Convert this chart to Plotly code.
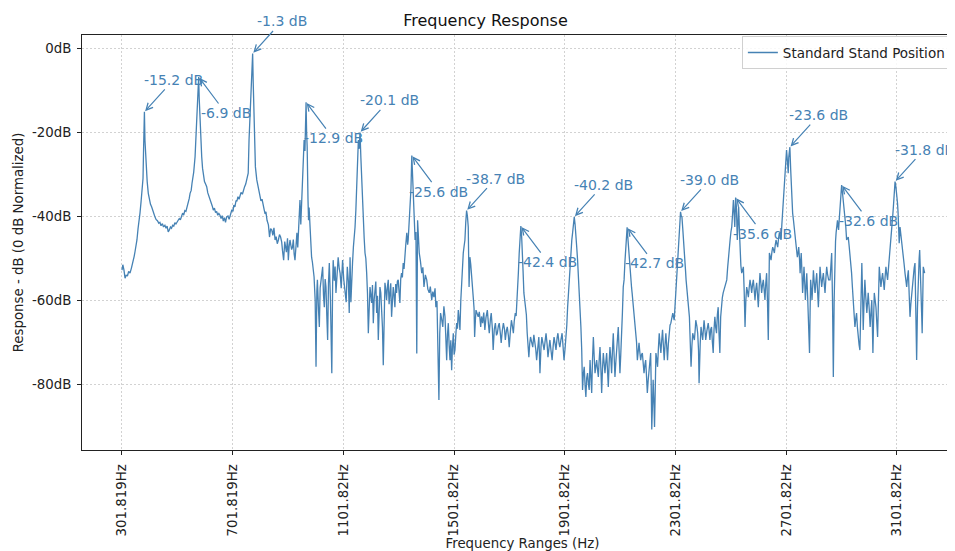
import plotly.graph_objects as go

# ---- data (frequency in Hz, response in dB) ----
seg1_hz = [302, 305, 309, 313, 317, 322, 326, 331, 336, 342, 346, 349, 353, 356, 360, 364, 367, 371, 375, 378, 380, 383,
           385, 389, 393, 397, 401, 405, 409, 413, 417, 421, 425, 430, 435, 439, 443, 448, 452, 457, 461, 465, 469, 473,
           477, 481, 485, 489, 493, 497, 501, 505, 509, 513, 517, 521, 525, 529, 533, 538, 542, 545, 548, 552, 555, 557,
           561, 566, 570, 574, 577, 579, 581, 584, 587, 590, 593, 596, 600, 604, 608, 612, 616, 620, 624, 628, 632, 636,
           640, 644, 648, 652, 656, 660, 664, 668, 672, 676, 680, 685, 689]
seg1_db = [-52.9, -51.6, -52.8, -54.8, -54.1, -54.2, -53.2, -53.6, -52.4, -51.0, -49.6, -48.5, -47.0, -45.7, -43.0, -41.1,
           -39.3, -36.5, -33.0, -31.0, -24.0, -15.2, -22.0, -28.3, -31.8, -34.6, -36.4, -37.2, -37.8, -38.9, -39.4, -40.2,
           -40.8, -41.1, -41.7, -41.5, -42.3, -41.8, -42.6, -42.2, -42.9, -42.4, -43.8, -43.3, -42.6, -42.9, -42.2, -42.4,
           -41.6, -41.9, -41.2, -41.0, -40.6, -40.9, -40.1, -39.3, -39.8, -38.7, -38.9, -37.8, -37.0, -35.8, -34.6, -33.9,
           -32.2, -31.4, -29.6, -25.9, -21.0, -14.0, -9.5, -6.9, -12.0, -17.9, -22.5, -25.9, -28.6, -30.7, -31.8, -32.4,
           -33.0, -34.5, -35.2, -36.2, -36.9, -37.6, -38.6, -38.1, -39.2, -38.9, -39.8, -39.4, -39.8, -40.6, -39.9, -41.2,
           -40.4, -41.5, -40.2, -40.0, -40.8]

seg2_hz = [692, 696, 699, 703, 706, 710, 714, 717, 721, 725, 728, 732, 737, 741, 745, 749, 753, 758, 761, 764, 766, 769,
           772, 774, 776, 778, 781, 784, 789, 793, 797, 800, 804, 808, 812, 816, 819, 822, 826, 831, 835, 839, 843, 847,
           851, 855, 859, 863, 867, 871, 875, 879, 882, 886, 890, 893, 896, 900, 903, 906, 909, 912, 915, 918, 921, 924,
           927, 930, 934, 937, 940, 942, 945, 948, 951, 954, 957, 960, 963, 965, 967, 969, 971, 974, 976, 978, 981, 984,
           987, 990, 993, 996, 1000, 1003, 1006, 1008, 1012, 1015, 1018, 1020, 1024, 1027, 1030, 1033, 1036, 1039, 1042,
           1045, 1048, 1051, 1055, 1060, 1063, 1065, 1069, 1072, 1075, 1079, 1083, 1087, 1090, 1094, 1099, 1103, 1108,
           1112, 1116, 1120, 1123]
seg2_db = [-40.2, -39.1, -38.5, -38.9, -37.4, -37.8, -36.3, -36.5, -35.4, -36.0, -35.5, -34.4, -34.8, -33.6, -33.0, -32.4,
           -31.5, -29.8, -21.9, -16.5, -13.1, -10.0, -5.5, -1.3, -8.0, -14.0, -22.0, -28.3, -31.4, -32.8, -34.7, -35.5,
           -36.4, -36.0, -37.8, -38.6, -39.5, -39.0, -41.0, -42.1, -45.0, -43.0, -43.3, -44.6, -42.8, -45.7, -44.9, -46.6,
           -45.7, -44.4, -45.0, -46.2, -48.3, -50.5, -46.1, -47.4, -48.6, -45.3, -50.5, -47.2, -45.7, -46.9, -48.0, -47.4,
           -45.6, -49.0, -50.5, -47.8, -44.0, -47.5, -43.0, -40.6, -36.2, -42.0, -37.5, -32.0, -26.0, -21.9, -24.5, -17.0,
           -12.9, -20.0, -23.5, -36.0, -41.0, -38.0, -42.6, -46.1, -49.8, -51.0, -52.3, -54.5, -60.2, -75.9, -58.0, -55.2,
           -62.3, -66.4, -57.1, -55.9, -54.0, -52.1, -58.8, -61.7, -55.0, -56.9, -63.8, -69.5, -56.0, -51.2, -59.7, -77.4,
           -56.3, -50.5, -55.4, -52.0, -58.3, -54.6, -49.8, -52.6, -53.6, -57.2, -50.5, -55.0, -58.3, -60.5, -52.1, -55.6,
           -63.1]

seg3_hz = [1126, 1129, 1132, 1135, 1138, 1141, 1144, 1147, 1150, 1153, 1156, 1159, 1162, 1165, 1168, 1171, 1173, 1177,
           1180, 1183, 1186, 1189, 1192, 1195, 1198, 1201, 1204, 1207, 1210, 1213, 1216, 1219, 1222, 1225, 1228, 1231,
           1234, 1237, 1240, 1243, 1246, 1249, 1252, 1255, 1258, 1261, 1264, 1267, 1270, 1273, 1276, 1279, 1282, 1285,
           1288, 1291, 1294, 1297, 1300, 1303, 1306, 1309, 1312, 1315, 1318, 1321, 1324, 1327, 1331, 1334, 1336, 1339,
           1342, 1346, 1349, 1352, 1354, 1358, 1361, 1364, 1367, 1370, 1373, 1376, 1380, 1385, 1389, 1393, 1398, 1403,
           1407, 1412, 1416, 1421, 1425, 1429, 1433, 1436, 1440, 1443, 1447, 1450, 1453, 1457, 1461, 1465, 1469, 1472,
           1475, 1478, 1481, 1484, 1487, 1490, 1493, 1496, 1499, 1502, 1505, 1508, 1511, 1514, 1517, 1520, 1523, 1526,
           1529, 1532, 1535, 1538, 1541, 1544, 1547, 1550, 1553, 1556]
seg3_db = [-49.8, -60.5, -53.6, -51.0, -47.4, -45.2, -42.6, -38.5, -33.8, -28.0, -21.9, -24.0, -20.1, -26.0, -31.4, -37.0,
           -41.7, -45.3, -48.8, -50.1, -53.6, -58.5, -67.9, -60.2, -56.9, -58.8, -60.7, -56.4, -65.5, -60.0, -58.3, -55.6,
           -63.1, -59.0, -69.5, -60.4, -56.9, -58.3, -61.7, -66.5, -75.5, -63.0, -55.9, -57.5, -60.0, -56.8, -55.2, -61.0,
           -58.3, -56.0, -64.0, -59.5, -56.9, -58.8, -61.7, -56.2, -58.3, -55.5, -55.2, -58.0, -60.7, -55.0, -53.6, -54.6,
           -51.2, -52.6, -48.8, -47.0, -44.0, -46.8, -45.7, -42.0, -39.3, -33.5, -25.6, -31.0, -37.8, -41.5, -45.7, -43.8,
           -72.7, -41.0, -45.5, -48.8, -50.6, -53.6, -52.2, -56.9, -54.0, -55.2, -57.4, -58.3, -56.8, -60.0, -58.0, -59.3,
           -57.2, -61.7, -60.2, -67.9, -83.8, -68.0, -63.1, -64.6, -66.4, -61.5, -64.0, -69.0, -74.3, -68.2, -65.5, -70.8,
           -74.3, -69.6, -76.7, -71.0, -67.9, -73.0, -71.9, -68.4, -65.5, -66.8, -62.4, -64.6, -67.1, -60.2, -55.2, -52.0,
           -48.8, -47.2, -45.7, -41.5, -38.7, -40.0, -42.6, -56.9]

seg4_hz = [1559, 1562, 1565, 1568, 1571, 1574, 1576, 1579, 1581, 1585, 1589, 1593, 1598, 1601, 1605, 1609, 1613, 1617,
           1622, 1626, 1629, 1633, 1636, 1640, 1643, 1647, 1651, 1655, 1658, 1662, 1665, 1669, 1672, 1676, 1680, 1684,
           1687, 1691, 1694, 1698, 1701, 1705, 1709, 1712, 1716, 1719, 1723, 1726, 1728, 1731, 1734, 1737, 1740, 1743,
           1746, 1748, 1751, 1754, 1757, 1760, 1763, 1766, 1769, 1772, 1775, 1778, 1782, 1786, 1790, 1793, 1797, 1800,
           1804, 1808, 1810, 1812, 1816, 1819, 1823, 1827, 1831, 1834, 1838, 1841, 1845, 1848, 1852, 1856, 1860, 1863,
           1867, 1870, 1874, 1877, 1881, 1884, 1888, 1892, 1896, 1899, 1903, 1906, 1909, 1912, 1915, 1918, 1921, 1924,
           1927, 1930, 1933, 1936, 1939, 1942, 1945, 1948, 1951, 1954, 1957, 1960, 1963, 1966, 1969, 1972, 1975, 1978,
           1981, 1984, 1987, 1990]
seg4_db = [-49.8, -51.5, -53.6, -57.0, -59.3, -62.0, -68.8, -64.5, -62.4, -63.2, -64.0, -62.8, -66.4, -63.9, -65.5, -63.0,
           -67.1, -64.2, -62.4, -65.8, -67.9, -64.6, -63.1, -66.7, -71.9, -67.0, -65.5, -68.4, -67.9, -66.1, -65.5, -68.0,
           -70.2, -67.3, -65.5, -67.0, -69.5, -67.2, -66.4, -68.5, -71.2, -67.6, -64.8, -66.0, -67.9, -65.1, -63.1, -63.8,
           -60.0, -57.2, -53.6, -49.0, -45.7, -42.4, -45.0, -47.4, -53.0, -58.3, -60.2, -61.7, -63.5, -67.9, -70.0, -73.6,
           -70.4, -68.8, -70.0, -71.2, -68.3, -69.5, -71.8, -74.3, -70.2, -68.8, -72.4, -77.4, -71.0, -68.8, -70.4, -71.9,
           -69.6, -67.9, -70.6, -73.6, -71.2, -69.5, -72.0, -74.3, -70.8, -68.8, -70.5, -71.9, -69.0, -67.9, -70.3, -71.2,
           -69.4, -67.9, -71.5, -74.3, -71.4, -69.5, -66.0, -61.7, -58.0, -55.2, -51.5, -48.8, -45.8, -44.0, -41.5, -40.2,
           -42.0, -44.0, -47.5, -50.5, -54.0, -58.3, -62.5, -66.4, -72.0, -81.4, -77.5, -75.9, -80.2, -83.1, -78.5, -77.4,
           -80.0, -81.4]

seg5_hz = [1993, 1996, 1999, 2002, 2005, 2008, 2011, 2014, 2017, 2020, 2023, 2026, 2029, 2032, 2035, 2038, 2041, 2044,
           2047, 2050, 2053, 2056, 2059, 2062, 2065, 2068, 2071, 2074, 2077, 2080, 2083, 2086, 2089, 2092, 2095, 2098,
           2101, 2104, 2107, 2110, 2113, 2116, 2119, 2122, 2125, 2127, 2130, 2133, 2137, 2140, 2143, 2145, 2148, 2151,
           2155, 2158, 2161, 2164, 2167, 2170, 2173, 2176, 2179, 2182, 2185, 2188, 2191, 2194, 2197, 2200, 2203, 2206,
           2209, 2212, 2214, 2216, 2219, 2221, 2224, 2226, 2229, 2231, 2234, 2237, 2240, 2243, 2246, 2249, 2252, 2255,
           2258, 2261, 2264, 2267, 2270, 2273, 2276, 2279, 2282, 2285, 2288, 2292, 2295, 2297, 2300, 2303, 2307, 2310,
           2313, 2315, 2318, 2320, 2322, 2325, 2328, 2330, 2333, 2335, 2338, 2340, 2343, 2346, 2349, 2352, 2355, 2358,
           2361, 2364, 2367, 2370, 2373, 2375, 2379, 2382, 2385, 2387, 2391, 2394, 2397, 2400, 2403, 2405, 2408, 2411,
           2415, 2420, 2423]
seg5_db = [-74.3, -79.0, -82.1, -74.0, -68.8, -73.5, -77.4, -75.8, -74.3, -76.5, -78.3, -74.2, -71.2, -76.0, -82.1, -76.4,
           -72.6, -75.0, -77.4, -74.8, -72.6, -76.5, -80.7, -75.0, -71.2, -73.8, -77.4, -72.0, -67.9, -73.2, -78.3, -75.0,
           -72.6, -69.0, -66.4, -72.0, -77.4, -73.0, -69.5, -63.0, -56.9, -55.2, -51.0, -47.4, -45.0, -42.7, -45.5, -48.8,
           -53.0, -55.2, -57.0, -58.3, -60.4, -61.7, -64.0, -66.4, -70.0, -74.3, -71.6, -70.2, -72.5, -74.3, -73.0, -72.6,
           -75.0, -77.4, -75.5, -74.3, -78.0, -82.1, -79.2, -77.4, -74.0, -72.6, -80.0, -90.8, -84.0, -79.0, -85.0, -90.2,
           -80.0, -72.6, -74.0, -75.9, -71.5, -67.9, -70.5, -72.6, -69.5, -67.1, -70.8, -74.3, -70.6, -67.9, -71.0, -74.3,
           -70.4, -67.1, -66.0, -65.5, -64.0, -63.1, -64.2, -64.8, -61.5, -58.3, -53.5, -49.8, -45.5, -42.6, -40.5, -39.0,
           -39.8, -40.2, -43.0, -45.7, -48.0, -50.5, -53.0, -55.2, -57.8, -60.0, -62.0, -64.0, -70.0, -75.9, -71.0, -67.9,
           -68.8, -69.5, -67.0, -64.8, -66.2, -67.9, -72.0, -79.8, -70.5, -66.4, -68.0, -69.5, -66.6, -64.8, -67.0, -69.5,
           -67.4, -65.5, -67.2]

seg6_hz = [2426, 2429, 2432, 2435, 2438, 2441, 2444, 2447, 2450, 2453, 2456, 2459, 2462, 2465, 2468, 2471, 2474, 2477,
           2480, 2484, 2487, 2490, 2492, 2496, 2499, 2502, 2505, 2508, 2511, 2514, 2516, 2519, 2522, 2525, 2528, 2530,
           2533, 2535, 2538, 2541, 2544, 2547, 2550, 2553, 2556, 2559, 2562, 2565, 2568, 2571, 2574, 2577, 2580, 2583,
           2586, 2589, 2592, 2595, 2598, 2601, 2604, 2607, 2610, 2613, 2616, 2619, 2622, 2625, 2628, 2631, 2634, 2637,
           2641, 2644, 2647, 2650, 2653, 2656, 2659, 2662, 2665, 2668, 2671, 2674, 2677, 2680, 2683, 2686, 2689, 2692,
           2694, 2696, 2698, 2701, 2703, 2706, 2709, 2711, 2713, 2715, 2718, 2720, 2723, 2725, 2728, 2731, 2734, 2737,
           2740, 2742, 2745, 2747, 2750, 2752, 2754, 2756, 2759, 2761, 2764, 2766, 2769, 2771, 2774, 2776, 2779, 2781,
           2784, 2786, 2788, 2790, 2793, 2795, 2798, 2800, 2803, 2806, 2809, 2812, 2815, 2818, 2821, 2824, 2827, 2830,
           2833, 2836, 2839, 2842, 2845, 2848, 2851, 2855]
seg6_db = [-69.5, -67.0, -66.4, -70.0, -72.6, -67.0, -64.0, -66.5, -67.9, -63.5, -61.7, -68.0, -72.6, -64.0, -60.7, -59.4,
           -58.3, -57.4, -56.9, -56.0, -55.2, -52.4, -50.5, -47.6, -45.7, -43.8, -42.6, -39.5, -36.2, -40.0, -42.6, -35.6,
           -38.0, -45.7, -40.0, -37.8, -44.0, -49.8, -51.8, -53.6, -52.8, -52.1, -58.0, -66.4, -60.0, -56.9, -58.0, -59.3,
           -57.0, -55.2, -56.5, -58.3, -56.4, -55.2, -57.5, -60.0, -57.4, -55.9, -58.6, -61.7, -57.0, -53.6, -55.8, -58.3,
           -56.4, -55.2, -57.5, -60.0, -56.0, -53.6, -60.0, -69.5, -48.8, -49.8, -50.5, -48.6, -47.4, -48.0, -48.8, -47.0,
           -45.7, -46.6, -47.4, -45.4, -44.0, -44.8, -45.7, -42.0, -39.3, -36.0, -33.8, -31.5, -29.8, -26.5, -24.3, -26.8,
           -29.8, -26.0, -24.6, -23.6, -29.0, -33.8, -36.8, -39.3, -41.0, -42.6, -44.3, -45.7, -48.0, -49.8, -48.5, -47.4,
           -50.5, -53.6, -51.0, -48.8, -54.0, -58.3, -55.0, -52.1, -56.4, -60.0, -56.5, -53.6, -58.8, -63.1, -68.0, -72.6,
           -63.0, -55.2, -57.8, -60.0, -56.0, -52.9, -55.8, -58.3, -55.6, -53.6, -57.8, -61.7, -56.5, -52.1, -54.6, -56.9,
           -55.0, -53.6, -56.0, -58.3, -55.0, -52.1, -53.8, -55.2]

seg7_hz = [2860, 2863, 2866, 2869, 2872, 2875, 2877, 2880, 2882, 2885, 2887, 2889, 2891, 2894, 2896, 2899, 2902, 2905,
           2908, 2911, 2914, 2917, 2920, 2923, 2926, 2929, 2932, 2935, 2938, 2941, 2944, 2947, 2950, 2953, 2956, 2959,
           2962, 2965, 2968, 2971, 2975, 2978, 2980, 2983, 2986, 2989, 2993, 2996, 2998, 3002, 3005, 3008, 3011, 3013,
           3015, 3018, 3020, 3023, 3026, 3029, 3032, 3035, 3038, 3041, 3044, 3047, 3050, 3053, 3056, 3059, 3062, 3065,
           3068, 3071, 3074, 3077, 3079, 3082, 3084, 3087, 3089, 3092, 3095, 3098, 3101, 3104, 3106, 3108, 3110, 3113,
           3116, 3119, 3122, 3125, 3128, 3131, 3134, 3137, 3140, 3143, 3146, 3149, 3152, 3155, 3158, 3161, 3164, 3167,
           3170, 3173, 3176, 3179, 3182, 3184, 3187, 3189, 3191, 3193, 3195, 3197, 3200, 3202]
seg7_db = [-55.2, -51.0, -48.8, -60.0, -78.3, -60.0, -48.8, -46.0, -44.0, -42.0, -41.0, -42.4, -43.3, -40.2, -37.8, -35.0,
           -32.6, -34.4, -36.2, -37.5, -39.3, -42.5, -45.7, -45.2, -45.0, -47.0, -48.8, -51.0, -53.6, -57.0, -60.0, -63.5,
           -66.4, -64.5, -63.1, -66.5, -69.5, -70.6, -71.9, -60.0, -51.2, -60.0, -67.1, -60.4, -55.2, -59.0, -63.1, -60.4,
           -58.3, -62.5, -66.4, -63.0, -60.0, -66.0, -72.6, -63.0, -58.3, -60.0, -61.7, -65.4, -68.8, -60.0, -52.1, -54.6,
           -56.9, -55.0, -53.6, -55.6, -57.6, -54.5, -52.1, -53.8, -55.2, -52.6, -50.5, -48.0, -45.7, -43.6, -41.7, -39.6,
           -37.8, -34.5, -31.8, -33.0, -34.6, -37.0, -39.3, -43.0, -46.5, -42.6, -44.2, -45.7, -47.8, -49.8, -51.6, -53.6,
           -55.3, -56.9, -54.6, -52.9, -58.6, -64.0, -61.0, -58.3, -56.0, -53.6, -52.4, -51.2, -62.0, -74.3, -62.0, -52.1,
           -50.2, -48.1, -53.0, -58.3, -63.0, -67.9, -60.0, -52.1, -53.0, -53.6]

freq_hz = seg1_hz + seg2_hz + seg3_hz + seg4_hz + seg5_hz + seg6_hz + seg7_hz
resp_db = seg1_db + seg2_db + seg3_db + seg4_db + seg5_db + seg6_db + seg7_db

peak_hz = [383, 579, 774, 967, 1162, 1349, 1547, 1743, 1936, 2127, 2320, 2519, 2715, 2902, 3095]
peak_db = [-15.2, -6.9, -1.3, -12.9, -20.1, -25.6, -38.7, -42.4, -40.2, -42.7, -39.0, -35.6, -23.6, -32.6, -31.8]

x_tick_vals = [301.819, 701.819, 1101.82, 1501.82, 1901.82, 2301.82, 2701.82, 3101.82]
x_tick_text = ["301.819Hz", "701.819Hz", "1101.82Hz", "1501.82Hz", "1901.82Hz", "2301.82Hz", "2701.82Hz", "3101.82Hz"]
y_tick_vals = [0, -20, -40, -60, -80]
y_tick_text = ["0dB", "-20dB", "-40dB", "-60dB", "-80dB"]

LINE = "#4682b4"
FONT = "DejaVu Sans"
TICK = 13.33

fig = go.Figure()
fig.add_trace(go.Scatter(
    x=freq_hz, y=resp_db, mode="lines", name="Standard Stand Position",
    line=dict(color=LINE, width=1.3),
))

for i, (hx, dv) in enumerate(zip(peak_hz, peak_db)):
    above = (i % 2 == 0)
    fig.add_annotation(
        x=hx, y=dv, xref="x", yref="y",
        text=f"{dv:.1f} dB",
        showarrow=True, arrowhead=5, arrowsize=1.1, arrowwidth=1.2,
        arrowcolor=LINE, standoff=1,
        ax=29 if above else 27, ay=-32 if above else 36,
        font=dict(family=FONT, size=14, color=LINE),
    )

grid = dict(showgrid=True, gridcolor="#d2d2d2", gridwidth=0.8, griddash="2px,2px")

# the page body adds an 8 px offset, so margins are set 8 px smaller
fig.update_layout(
    width=955, height=551,
    margin=dict(l=74, r=0, t=27, b=109),
    paper_bgcolor="white", plot_bgcolor="white",
    font=dict(family=FONT, size=TICK, color="#222"),
    title=dict(text="Frequency Response", x=0.5, xanchor="center",
               y=0.978, yanchor="middle", font=dict(family=FONT, size=16, color="#111")),
    showlegend=True,
    legend=dict(x=0.749, xanchor="left", y=0.997, yanchor="top",
                bgcolor="rgba(255,255,255,0.85)", bordercolor="#d0d0d0", borderwidth=1,
                font=dict(family=FONT, size=13.5, color="#222")),
    xaxis=dict(range=[157.5, 3340.5], tickvals=x_tick_vals, ticktext=x_tick_text,
               tickangle=-90, ticks="outside", ticklen=4, tickcolor="#222",
               ticklabelstandoff=4, tickfont=dict(family=FONT, size=TICK, color="#222"),
               showline=True, linecolor="#222", linewidth=1, mirror=True,
               zeroline=False, automargin=False,
               title=dict(text="Frequency Ranges (Hz)", standoff=3,
                          font=dict(family=FONT, size=TICK, color="#222")),
               **grid),
    yaxis=dict(range=[-95.7, 3.1], tickvals=y_tick_vals, ticktext=y_tick_text,
               ticks="outside", ticklen=4, tickcolor="#222",
               ticklabelstandoff=3, tickfont=dict(family=FONT, size=TICK, color="#222"),
               showline=True, linecolor="#222", linewidth=1, mirror=False,
               zeroline=False, automargin=False,
               title=dict(text="Response - dB (0 dB Normalized)", standoff=5,
                          font=dict(family=FONT, size=TICK, color="#222")),
               **grid),
)

fig.write_html("out.html")
